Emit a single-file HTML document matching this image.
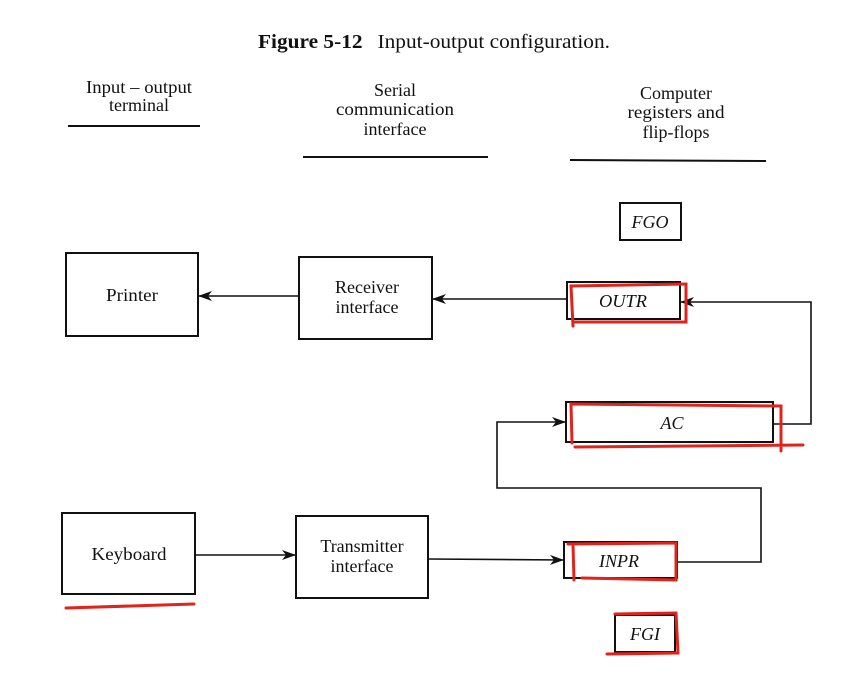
<!DOCTYPE html>
<html><head><meta charset="utf-8"><style>
html,body{margin:0;padding:0;background:#fff;}
svg{display:block;}
text{font-family:"Liberation Serif",serif;fill:#111;}
</style></head><body>
<svg width="866" height="692" viewBox="0 0 866 692" xmlns="http://www.w3.org/2000/svg">
<defs>
<marker id="a" viewBox="0 0 14 10" refX="14" refY="5" markerWidth="14" markerHeight="10" markerUnits="userSpaceOnUse" orient="auto">
<path d="M0,0 L14,5 L0,10 L4,5 Z" fill="#111"/></marker>
</defs>
<rect width="866" height="692" fill="#fff"/>
<text x="258" y="48" font-size="20" textLength="352" lengthAdjust="spacingAndGlyphs"><tspan font-weight="bold">Figure 5-12</tspan><tspan dx="14">Input-output configuration.</tspan></text>
<g font-size="18" text-anchor="middle">
<text x="139" y="93" textLength="106" lengthAdjust="spacingAndGlyphs">Input – output</text><text x="139" y="111">terminal</text>
<text x="395" y="96">Serial</text><text x="395" y="115" textLength="118" lengthAdjust="spacingAndGlyphs">communication</text><text x="395" y="135">interface</text>
<text x="676" y="99">Computer</text><text x="676" y="118" textLength="97" lengthAdjust="spacingAndGlyphs">registers and</text><text x="676" y="138">flip-flops</text>
</g>
<g stroke="#111" stroke-width="2">
<line x1="68" y1="126" x2="200" y2="126"/>
<line x1="303" y1="157" x2="488" y2="157"/>
<line x1="570" y1="160" x2="766" y2="161"/>
</g>
<g fill="none" stroke="#111" stroke-width="2">
<rect x="66" y="253" width="132" height="83"/>
<rect x="299" y="257" width="133" height="82"/>
<rect x="62" y="513" width="133" height="81"/>
<rect x="296" y="516" width="132" height="82"/>
<rect x="620" y="203" width="61" height="37"/>
<rect x="567" y="282" width="113" height="37"/>
<rect x="566" y="402" width="207" height="40"/>
<rect x="564" y="542" width="113" height="36"/>
<rect x="615" y="615" width="60" height="37"/>
</g>
<g fill="none" stroke="#111" stroke-width="1.6">
<line x1="299" y1="296" x2="198" y2="296" marker-end="url(#a)"/>
<line x1="567" y1="299" x2="432" y2="299" marker-end="url(#a)"/>
<polyline points="773,424 811,424 811,302 680,302" marker-end="url(#a)"/>
<line x1="195" y1="555" x2="296" y2="555" marker-end="url(#a)"/>
<line x1="428" y1="559" x2="564" y2="560" marker-end="url(#a)"/>
<polyline points="677,562 761,562 761,488 497,488 497,422 566,422" marker-end="url(#a)"/>
</g>
<g font-size="18" text-anchor="middle">
<text x="132" y="301" textLength="52" lengthAdjust="spacingAndGlyphs">Printer</text>
<text x="367" y="293">Receiver</text><text x="367" y="313">interface</text>
<text x="129" y="560" textLength="75" lengthAdjust="spacingAndGlyphs">Keyboard</text>
<text x="362" y="552">Transmitter</text><text x="362" y="572">interface</text>
</g>
<g font-size="18" font-style="italic" text-anchor="middle">
<text x="650" y="228">FGO</text>
<text x="623" y="307" textLength="48" lengthAdjust="spacingAndGlyphs">OUTR</text>
<text x="672" y="429">AC</text>
<text x="619" y="567">INPR</text>
<text x="645" y="640">FGI</text>
</g>
<g fill="none" stroke="#e0241b" stroke-width="3" stroke-linecap="round">
<path d="M573,326 L571,286 L686,284 L686,322 L573,322"/>
<path d="M572,443 L571,404 L781,406 L781,451 M575,447 L803,445"/>
<path d="M573,545 L574,580 M568,544 L676,543 L676,580 L582,578"/>
<path d="M615,614 L676,613 L678,653 L607,654"/>
<path d="M66,608 L194,604"/>
</g>
</svg>
</body></html>
